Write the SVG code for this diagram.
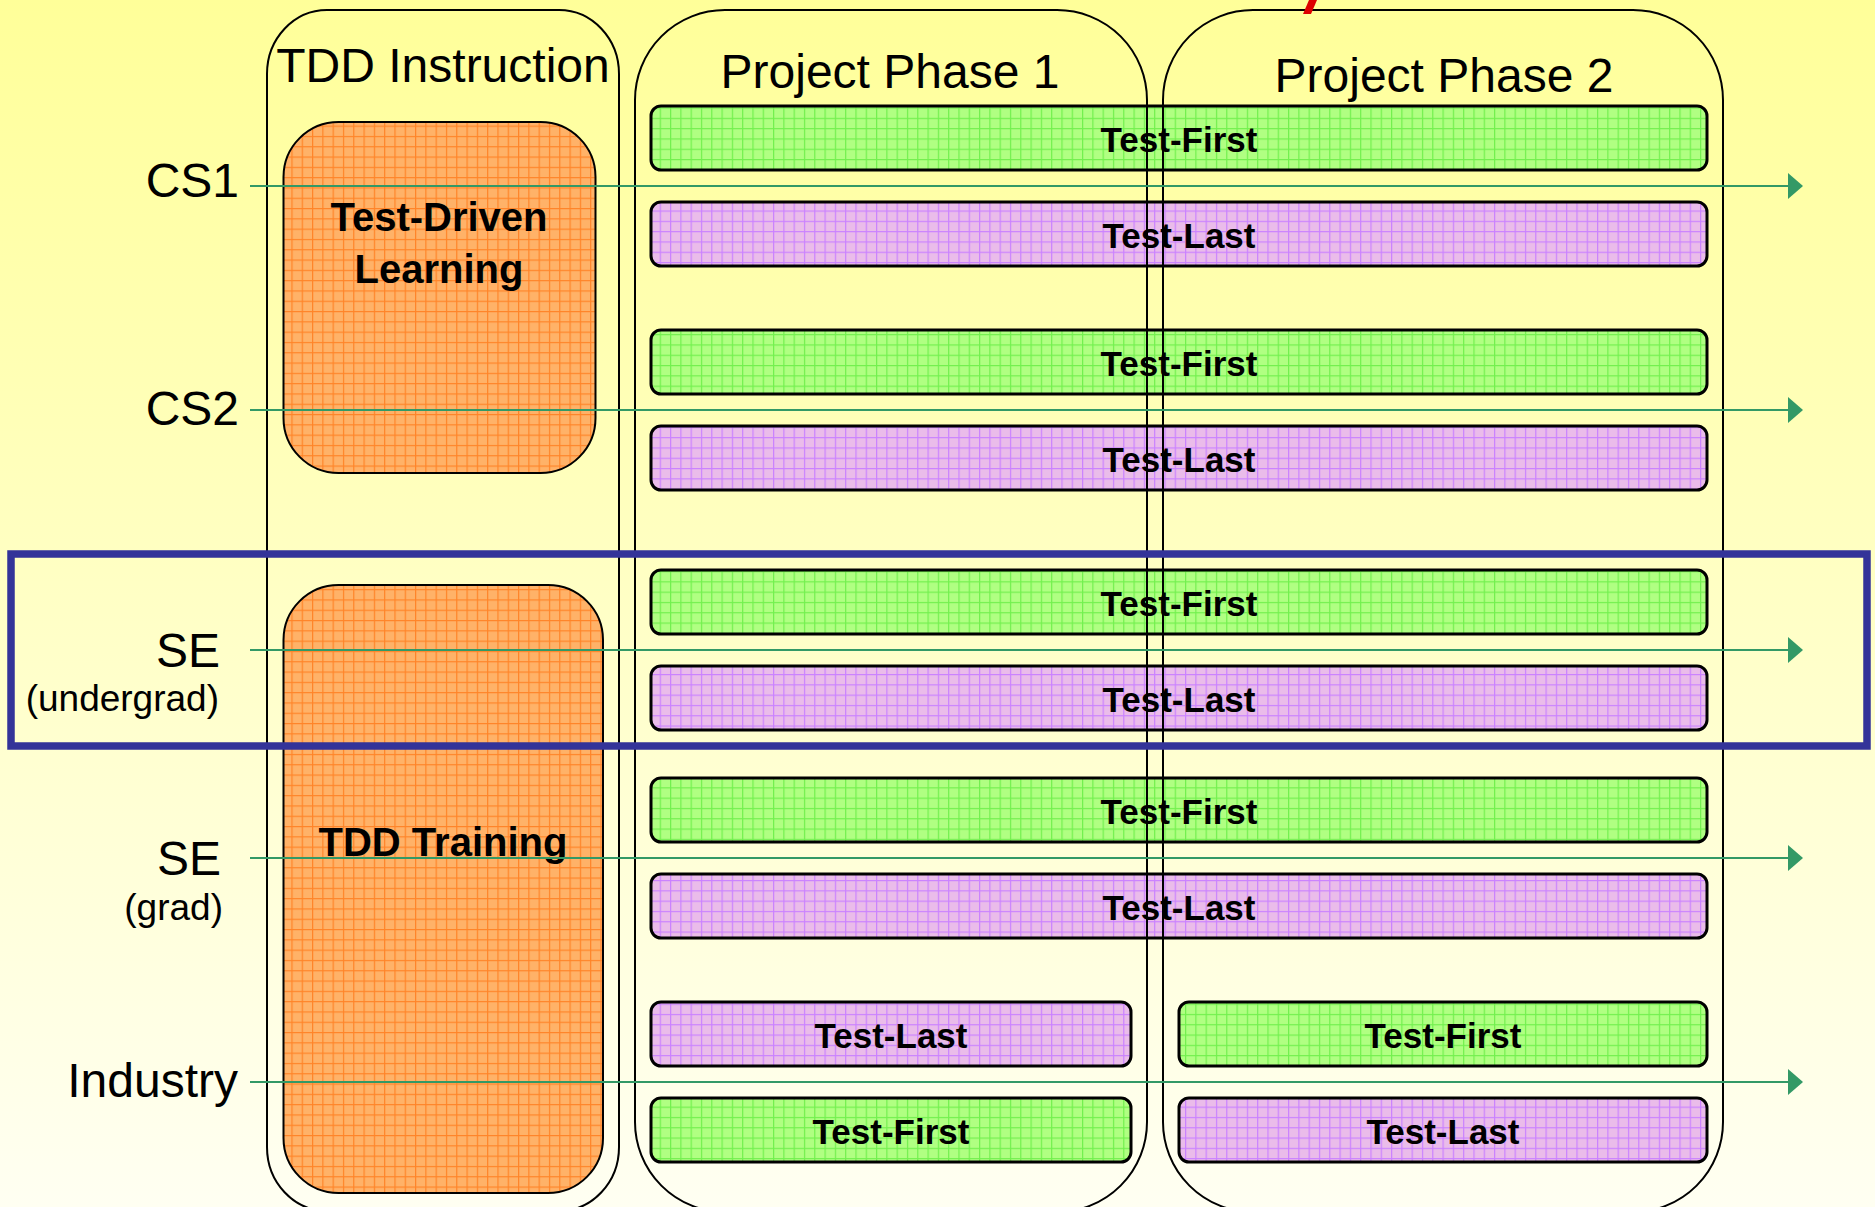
<svg xmlns="http://www.w3.org/2000/svg" width="1875" height="1207" viewBox="0 0 1875 1207">
  <defs>
    <linearGradient id="bg" x1="0" y1="0" x2="0" y2="1">
      <stop offset="0" stop-color="#FFFF99"/>
      <stop offset="1" stop-color="#FFFFF2"/>
    </linearGradient>
    <pattern id="gridGreen" patternUnits="userSpaceOnUse" x="0.5" y="4.5" width="10.3" height="10.3">
      <rect width="10.3" height="10.3" fill="#B0FF82"/>
      <path d="M0.6,0 V10.3 M0,0.6 H10.3" stroke="#72F04E" stroke-width="1.2"/>
    </pattern>
    <pattern id="gridPurple" patternUnits="userSpaceOnUse" x="0.5" y="4.5" width="10.3" height="10.3">
      <rect width="10.3" height="10.3" fill="#EABCEA"/>
      <path d="M0.6,0 V10.3 M0,0.6 H10.3" stroke="#CA82FF" stroke-width="1.2"/>
    </pattern>
    <pattern id="gridOrange" patternUnits="userSpaceOnUse" x="3" y="2" width="10.3" height="10.3">
      <rect width="10.3" height="10.3" fill="#FFB268"/>
      <path d="M0.6,0 V10.3 M0,0.6 H10.3" stroke="#FF8428" stroke-width="1.2"/>
    </pattern>
    <marker id="arrowHead" viewBox="0 0 15 26" refX="0" refY="13" markerWidth="15" markerHeight="26" markerUnits="userSpaceOnUse" orient="auto">
      <path d="M0,0 L15,13 L0,26 Z" fill="#339966"/>
    </marker>
    <style>
      .column { fill: none; stroke: #000; stroke-width: 2; }
      .bar { stroke: #000; stroke-width: 3; }
      .first { fill: url(#gridGreen); }
      .last { fill: url(#gridPurple); }
      .stage { fill: url(#gridOrange); stroke: #000; stroke-width: 2; }
      .barText { font-family: "Liberation Sans", Arial, sans-serif; font-weight: bold; font-size: 35px; text-anchor: middle; fill: #000; }
      .stageText { font-family: "Liberation Sans", Arial, sans-serif; font-weight: bold; font-size: 40px; text-anchor: middle; fill: #000; }
      .head { font-family: "Liberation Sans", Arial, sans-serif; font-size: 48px; text-anchor: middle; fill: #000; }
      .rowLabel { font-family: "Liberation Sans", Arial, sans-serif; font-size: 48px; text-anchor: end; fill: #000; }
      .rowSub { font-family: "Liberation Sans", Arial, sans-serif; font-size: 37px; text-anchor: end; fill: #000; }
      .flow { stroke: #339966; stroke-width: 2.2; fill: none; marker-end: url(#arrowHead); }
    </style>
  </defs>

  <!-- background -->
  <rect width="1875" height="1207" fill="url(#bg)"/>

  <!-- row labels -->
  <g id="label-cs1"><text class="rowLabel" x="239" y="197">CS1</text></g>
  <g id="label-cs2"><text class="rowLabel" x="239" y="425">CS2</text></g>
  <g id="label-se-undergrad">
    <text class="rowLabel" x="220" y="667">SE</text>
    <text class="rowSub" x="219" y="711">(undergrad)</text>
  </g>
  <g id="label-se-grad">
    <text class="rowLabel" x="221" y="875">SE</text>
    <text class="rowSub" x="223" y="920">(grad)</text>
  </g>
  <g id="label-industry"><text class="rowLabel" x="238" y="1097">Industry</text></g>

  <!-- CS1 -->
  <g id="cs1-test-first">
    <rect class="bar first" x="651" y="106" width="1056" height="64" rx="10"/>
    <text class="barText" x="1179" y="152">Test-First</text>
  </g>
  <g id="cs1-test-last">
    <rect class="bar last" x="651" y="202" width="1056" height="64" rx="10"/>
    <text class="barText" x="1179" y="248">Test-Last</text>
  </g>

  <!-- CS2 -->
  <g id="cs2-test-first">
    <rect class="bar first" x="651" y="330" width="1056" height="64" rx="10"/>
    <text class="barText" x="1179" y="376">Test-First</text>
  </g>
  <g id="cs2-test-last">
    <rect class="bar last" x="651" y="426" width="1056" height="64" rx="10"/>
    <text class="barText" x="1179" y="472">Test-Last</text>
  </g>

  <!-- SE undergrad -->
  <g id="se-undergrad-test-first">
    <rect class="bar first" x="651" y="570" width="1056" height="64" rx="10"/>
    <text class="barText" x="1179" y="616">Test-First</text>
  </g>
  <g id="se-undergrad-test-last">
    <rect class="bar last" x="651" y="666" width="1056" height="64" rx="10"/>
    <text class="barText" x="1179" y="712">Test-Last</text>
  </g>

  <!-- SE grad -->
  <g id="se-grad-test-first">
    <rect class="bar first" x="651" y="778" width="1056" height="64" rx="10"/>
    <text class="barText" x="1179" y="824">Test-First</text>
  </g>
  <g id="se-grad-test-last">
    <rect class="bar last" x="651" y="874" width="1056" height="64" rx="10"/>
    <text class="barText" x="1179" y="920">Test-Last</text>
  </g>

  <!-- Industry -->
  <g id="industry-p1-test-last">
    <rect class="bar last" x="651" y="1002" width="480" height="64" rx="10"/>
    <text class="barText" x="891" y="1048">Test-Last</text>
  </g>
  <g id="industry-p2-test-first">
    <rect class="bar first" x="1179" y="1002" width="528" height="64" rx="10"/>
    <text class="barText" x="1443" y="1048">Test-First</text>
  </g>
  <g id="industry-p1-test-first">
    <rect class="bar first" x="651" y="1098" width="480" height="64" rx="10"/>
    <text class="barText" x="891" y="1144">Test-First</text>
  </g>
  <g id="industry-p2-test-last">
    <rect class="bar last" x="1179" y="1098" width="528" height="64" rx="10"/>
    <text class="barText" x="1443" y="1144">Test-Last</text>
  </g>

  <!-- column frames -->
  <g id="col-tdd-instruction">
    <rect class="column" x="267" y="10" width="352" height="1201" rx="60" ry="64"/>
    <text class="head" x="443" y="82">TDD Instruction</text>
  </g>
  <g id="col-phase-1">
    <rect class="column" x="635" y="10" width="512" height="1202" rx="90" ry="90"/>
    <text class="head" x="890" y="88">Project Phase 1</text>
  </g>
  <g id="col-phase-2">
    <rect class="column" x="1163" y="10" width="560" height="1202" rx="90" ry="90"/>
    <text class="head" x="1444" y="92">Project Phase 2</text>
  </g>

  <!-- instruction stages -->
  <g id="test-driven-learning">
    <rect class="stage" x="283.5" y="122" width="312" height="351" rx="55" ry="55"/>
    <text class="stageText" x="439" y="231">Test-Driven</text>
    <text class="stageText" x="439" y="283">Learning</text>
  </g>
  <g id="tdd-training">
    <rect class="stage" x="283.5" y="585" width="319.5" height="608" rx="55" ry="55"/>
    <text class="stageText" x="443" y="856">TDD Training</text>
  </g>

  <!-- timelines -->
  <g id="connectors">
    <line class="flow" x1="250" y1="186" x2="1788" y2="186"/>
    <line class="flow" x1="250" y1="410" x2="1788" y2="410"/>
    <line class="flow" x1="250" y1="650" x2="1788" y2="650"/>
    <line class="flow" x1="250" y1="858" x2="1788" y2="858"/>
    <line class="flow" x1="250" y1="1082" x2="1788" y2="1082"/>
  </g>

  <!-- highlight around the SE (undergrad) row -->
  <rect id="highlight" x="11" y="554" width="1856" height="192" fill="none" stroke="#333399" stroke-width="7.5"/>

  <!-- red stroke entering at the top edge -->
  <polygon id="red-mark" points="1309,0 1317,0 1311,14 1303,14" fill="#DD0000"/>
</svg>
